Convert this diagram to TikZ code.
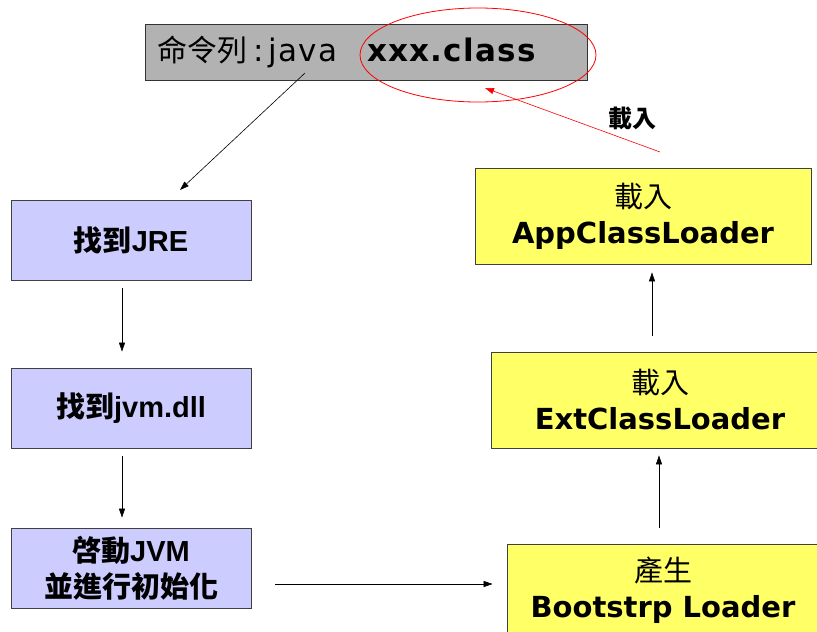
\documentclass[tikz,border=0pt]{standalone}
\usepackage{fontspec}
\setmainfont{Liberation Sans}
\newfontfamily\cjk{Noto Sans CJK TC}
\newfontfamily\dvb{DejaVu Sans Bold}
\newfontfamily\dvs[LetterSpace=4]{DejaVu Sans}
\usetikzlibrary{arrows.meta,shapes.geometric}
\definecolor{cmdgray}{HTML}{B2B2B2}
\definecolor{blueb}{HTML}{CCCCFF}
\definecolor{yel}{HTML}{FFFF66}
\begin{document}
\begin{tikzpicture}[x=1pt,y=-1pt,
  box/.style={draw=black!75, line width=0.8pt, minimum width=240pt, minimum height=80pt,
    fill=blueb, align=center, inner sep=0pt, font=\bfseries\fontsize{29}{36}\selectfont},
  ybox/.style={draw=black!75, line width=0.8pt, fill=yel, align=center, inner sep=0pt,
    font=\fontsize{29}{36}\selectfont},
  arr/.style={-{Triangle[length=9pt,width=6pt]}, line width=0.6pt}]
\useasboundingbox (0,0) rectangle (817,632);
\fill[white] (0,0) rectangle (817,632);

% command box
\node[draw=black!80, fill=cmdgray, minimum width=442pt, minimum height=56pt, inner xsep=12pt, inner ysep=0pt,
  text width=418pt, align=left, font=\fontsize{30}{31}\selectfont] (cmd) at (366,52)
  {{\cjk 命令列}{\dvs\fontsize{31}{32}\selectfont\hspace{6pt}:\hspace{5pt}java\hspace{30pt}\bfseries xxx.class}};
\node[ellipse, draw=red, line width=0.8pt, minimum width=236pt, minimum height=94pt, inner sep=0pt] (oval) at (478,55) {};

\coordinate (rs) at (660,152);
\coordinate (rt) at (485,88);
\draw[arr, red] (rs) -- (rt);
\node[font=\cjk\bfseries\fontsize{24}{26}\selectfont] (lbl) at (632,118) {載入};

\coordinate (bs) at (305,73);
\coordinate (be) at (180,190);
\draw[arr] (bs) -- (be);

% left column
\node[box] (jre) at (131,240) {{\cjk 找到}JRE};
\node[box] (jvm) at (131,408) {{\cjk 找到}jvm.dll};
\node[box] (init) at (131,568) {{\cjk 啓動}JVM\\{\cjk 並進行初始化}};

\draw[arr] ([xshift=-9pt,yshift=-8pt]jre.south) -- ([xshift=-9pt,yshift=16pt]jvm.north);
\draw[arr] ([xshift=-9pt,yshift=-8pt]jvm.south) -- ([xshift=-9pt,yshift=10pt]init.north);

% right column
\node[ybox, minimum width=336pt, minimum height=96pt] (app) at (643,216) {{\cjk 載入}\\{\dvb AppClassLoader}};
\node[ybox, minimum width=338pt, minimum height=96pt] (ext) at (660,400) {{\cjk 載入}\\{\dvb ExtClassLoader}};
\node[ybox, minimum width=312pt, minimum height=92pt] (boot) at (663,590) {{\cjk 產生}\\{\dvb Bootstrp Loader}};

\draw[arr] ([xshift=24pt,yshift=-16pt]init.east) -- ([xshift=-14pt,yshift=6pt]boot.west);
\draw[arr] ([xshift=-4pt,yshift=16pt]boot.north) -- ([xshift=-1pt,yshift=-7pt]ext.south);
\draw[arr] ([xshift=-8pt,yshift=16pt]ext.north) -- ([xshift=9pt,yshift=-8pt]app.south);
\end{tikzpicture}
\end{document}
